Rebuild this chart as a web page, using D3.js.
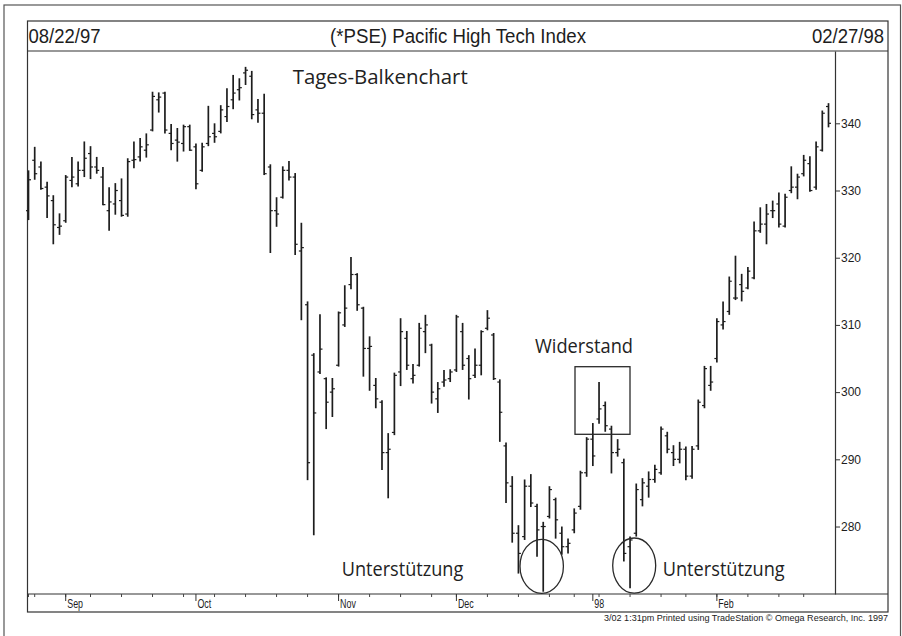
<!DOCTYPE html>
<html>
<head>
<meta charset="utf-8">
<script src="https://cdn.jsdelivr.net/npm/d3@7"></script>
<style>
  body { margin: 0; background: #fff; }
  svg { display: block; }
</style>
</head>
<body>
<script>
// daily bars, 08/22/97 .. 02/27/98 (one value per trading day)
const high = [333.0,336.5,334.3,331.3,329.3,326.6,332.3,335.0,334.3,337.3,336.6,335.0,333.5,330.5,331.1,331.8,334.8,337.3,337.8,338.5,
  344.7,344.6,344.7,339.9,339.3,339.8,339.8,337.0,337.1,342.6,340.0,342.7,345.2,347.2,346.7,348.4,347.8,343.6,344.4,333.9,
  329.0,333.6,334.4,332.6,325.2,313.5,305.8,311.6,302.2,302.1,312.0,315.9,320.1,317.7,312.7,308.3,302.1,298.8,293.9,302.9,
  311.0,309.1,304.2,310.3,311.5,307.2,301.5,303.3,303.4,311.5,310.3,305.5,306.5,309.2,312.2,308.8,301.9,292.5,287.5,280.2,
  287.0,287.8,283.4,280.7,286.0,284.3,280.0,278.2,282.7,288.3,293.3,295.4,301.5,298.6,295.0,293.0,290.1,278.5,286.4,287.2,
  288.2,289.2,294.9,294.1,292.1,292.6,291.9,292.0,298.9,303.9,303.9,311.0,313.5,317.2,320.3,317.6,318.6,325.4,327.5,328.0,
  328.5,329.7,329.5,333.6,332.5,335.3,335.1,337.3,341.9,343.0];
const low = [325.6,331.6,330.1,325.9,322.0,323.4,325.2,330.5,330.6,332.0,331.7,332.5,327.8,324.0,326.4,326.1,326.1,333.3,334.3,334.9,
  338.8,341.6,338.5,336.0,334.3,335.8,335.9,330.2,332.8,336.6,337.1,338.5,340.2,342.1,343.4,345.7,340.6,340.1,332.3,320.7,
  324.6,328.8,331.5,320.4,310.7,286.9,278.7,302.7,294.5,296.3,303.8,309.7,315.3,312.1,302.3,300.2,297.6,288.4,284.2,293.6,
  300.9,303.3,301.3,303.8,305.8,298.3,296.9,300.8,301.5,303.0,303.3,298.9,302.1,302.5,309.2,301.8,292.6,283.5,277.6,273.0,
  278.0,282.9,275.5,270.3,281.2,278.2,275.8,276.0,279.0,282.5,287.4,289.0,295.3,294.1,287.9,290.4,274.8,270.8,278.5,283.0,
  284.3,286.5,287.7,290.9,289.0,289.4,286.9,287.1,291.4,297.6,300.2,304.4,309.3,311.5,313.7,313.5,315.3,316.8,323.7,322.0,
  325.9,324.5,324.5,329.6,328.7,332.1,329.8,330.1,335.8,339.4];
const open = [327.0,334.5,333.5,330.5,328.5,324.5,325.5,331.5,331.0,333.0,335.5,333.5,332.0,327.0,328.0,328.5,326.5,334.5,335.0,336.0,
  339.0,343.5,344.5,338.5,337.5,337.0,339.5,336.5,333.0,337.0,338.5,338.8,341.0,343.5,345.0,347.5,347.0,342.0,341.5,333.5,
  327.0,329.0,333.0,332.0,321.0,313.0,305.5,303.0,302.0,300.0,304.0,310.0,316.0,317.5,312.5,306.5,301.0,298.5,291.0,294.0,
  303.0,308.0,302.0,304.0,309.0,307.0,299.0,301.5,302.0,303.3,309.0,305.0,302.5,304.0,309.5,308.5,301.5,292.0,286.0,279.0,
  278.5,286.0,283.0,280.0,281.5,284.0,279.0,277.0,279.5,283.0,288.0,293.0,296.0,298.0,294.5,291.0,289.5,277.0,279.0,284.0,
  286.0,287.0,288.0,293.5,291.0,290.0,291.5,287.5,292.0,298.0,301.0,305.0,310.0,312.0,314.0,316.0,315.5,317.0,324.0,325.0,
  327.0,328.0,324.7,330.0,330.5,332.5,334.0,330.5,336.0,342.5];
const close = [331.6,332.5,330.3,329.2,324.9,324.7,332.0,332.0,333.0,334.8,333.5,333.0,327.9,328.3,330.0,326.3,334.3,334.6,336.5,336.8,
  344.0,343.9,339.0,337.0,337.2,339.5,336.0,331.0,336.5,338.0,338.0,342.0,342.5,344.5,345.3,347.9,341.3,341.5,332.5,327.0,
  326.5,333.0,332.0,322.0,321.5,289.5,296.9,306.4,298.5,300.5,311.8,312.5,317.5,313.0,306.5,306.8,299.0,291.0,291.5,302.5,
  309.0,304.0,302.5,309.5,310.0,300.0,300.5,301.8,303.0,311.2,304.0,302.0,304.0,309.0,311.0,302.0,297.0,286.5,279.0,276.0,
  286.0,283.5,279.5,280.0,285.5,281.0,277.0,277.5,282.0,288.0,293.0,290.5,297.5,295.0,291.0,291.5,276.0,278.0,285.5,286.5,
  287.0,288.5,294.5,291.5,290.0,291.5,287.5,291.5,298.5,303.5,301.5,310.5,310.5,316.5,314.0,315.0,318.0,324.0,325.0,326.5,
  327.0,325.0,329.0,330.5,332.0,334.5,330.0,336.5,341.5,340.0];

// trading calendar
const firstDay = '1997-08-22';
const lastDay = '1998-02-27';
const holidays = ['1997-09-01', '1997-11-27', '1997-12-25', '1998-01-01', '1998-01-19', '1998-02-16'];
const monthLabels = ['Sep', 'Oct', 'Nov', 'Dec', '98', 'Feb'];
const yTicks = [280, 290, 300, 310, 320, 330, 340];

const W = 902, H = 636;
const ink = '#1d1d1d';

const parse = d3.timeParse('%Y-%m-%d'), fmt = d3.timeFormat('%Y-%m-%d');
const days = d3.timeDay.range(parse(firstDay), d3.timeDay.offset(parse(lastDay), 1))
  .filter(d => d.getDay() !== 0 && d.getDay() !== 6 && !holidays.includes(fmt(d)));
const keys = days.map(fmt);

const bars = keys.map((k, i) => ({ k, o: open[i], h: high[i], l: low[i], c: close[i] }));

// week starts and month starts (first trading day of each)
const weekStarts = keys.filter((k, i) => i === 0 || d3.timeMonday.floor(days[i]) > days[i - 1]);
const monthStarts = keys.filter((k, i) => i > 0 && days[i].getMonth() !== days[i - 1].getMonth());

const box = { left: 27.5, right: 888, top: 21, head: 51, axis: 594, bottom: 612, yAxis: 835 };

const x = d3.scalePoint().domain(keys).range([28.5, 828.5]);
const y = d3.scaleLinear().domain([269.96, 350.76]).range([box.axis, box.head]);

const svg = d3.select('body').append('svg').attr('width', W).attr('height', H);

// outer page frame
svg.append('rect').attr('x', 4).attr('y', 5).attr('width', 896.5).attr('height', 640)
  .attr('fill', 'none').attr('stroke', '#555').attr('stroke-width', 1.2);

// chart box
svg.append('rect').attr('x', box.left).attr('y', box.top)
  .attr('width', box.right - box.left).attr('height', box.bottom - box.top)
  .attr('fill', 'none').attr('stroke', '#333').attr('stroke-width', 1.2);
svg.append('line').attr('x1', box.left).attr('x2', box.right).attr('y1', box.head).attr('y2', box.head)
  .attr('stroke', '#333').attr('stroke-width', 1.2);

const fit = (sel, w) => sel.attr('textLength', w).attr('lengthAdjust', 'spacingAndGlyphs');

// header
const headFont = 'Liberation Sans, Arial, sans-serif';
fit(svg.append('text').attr('x', 28.5).attr('y', 43.3).attr('font-family', headFont).attr('font-size', 20)
  .attr('fill', ink).text('08/22/97'), 72);
fit(svg.append('text').attr('x', 884).attr('y', 43.3).attr('text-anchor', 'end').attr('font-family', headFont)
  .attr('font-size', 20).attr('fill', ink).text('02/27/98'), 72);
fit(svg.append('text').attr('x', 330).attr('y', 43.3).attr('font-family', headFont).attr('font-size', 20)
  .attr('fill', ink).text('(*PSE) Pacific High Tech Index'), 256);

// y axis (right)
const yAxis = svg.append('g').attr('transform', `translate(${box.yAxis},0)`)
  .call(d3.axisRight(y).tickValues(yTicks).tickSize(5).tickSizeOuter(0).tickPadding(1));
yAxis.select('.domain').attr('stroke', '#333').attr('stroke-width', 1.2);
yAxis.selectAll('.tick line').attr('stroke', '#333');
yAxis.selectAll('.tick text').attr('font-family', headFont).attr('font-size', 12).attr('fill', ink);

// x axis strip
const xAxis = svg.append('g').attr('transform', `translate(0,${box.axis})`);
xAxis.append('line').attr('x1', box.left).attr('x2', box.right).attr('stroke', '#333').attr('stroke-width', 1.2);
xAxis.selectAll('line.wk').data(weekStarts).join('line').attr('class', 'wk')
  .attr('x1', d => x(d)).attr('x2', d => x(d)).attr('y1', 0).attr('y2', 3).attr('stroke', '#444');
xAxis.selectAll('line.mo').data(monthStarts).join('line').attr('class', 'mo')
  .attr('x1', d => x(d)).attr('x2', d => x(d)).attr('y1', 0).attr('y2', 7).attr('stroke', '#333');
xAxis.selectAll('text.mo').data(monthStarts).join('text').attr('class', 'mo')
  .attr('x', d => x(d) + 1.5).attr('y', 13.8)
  .attr('font-family', headFont).attr('font-size', 12).attr('fill', ink)
  .text((d, i) => monthLabels[i])
  .each(function () { fit(d3.select(this), this.getComputedTextLength() * 0.74); });

// footer
fit(svg.append('text').attr('x', 604).attr('y', 621).attr('font-family', headFont).attr('font-size', 9)
  .attr('fill', ink).text('3/02  1:31pm Printed using TradeStation \u00a9 Omega Research, Inc. 1997'), 284);

// OHLC bars
const g = svg.append('g').attr('stroke', ink).attr('stroke-width', 1.7);
g.selectAll('line.hl').data(bars).join('line').attr('class', 'hl')
  .attr('x1', d => x(d.k)).attr('x2', d => x(d.k)).attr('y1', d => y(d.h)).attr('y2', d => y(d.l));
g.selectAll('line.op').data(bars).join('line').attr('class', 'op').attr('stroke-width', 1.2)
  .attr('x1', d => x(d.k) - 2.5).attr('x2', d => x(d.k)).attr('y1', d => y(d.o)).attr('y2', d => y(d.o));
g.selectAll('line.cl').data(bars).join('line').attr('class', 'cl').attr('stroke-width', 1.2)
  .attr('x1', d => x(d.k)).attr('x2', d => x(d.k) + 2.5).attr('y1', d => y(d.c)).attr('y2', d => y(d.c));

// annotations
const noteFont = 'Open Sans, Noto Sans, sans-serif';
const note = (tx, x0, y0, w) => fit(svg.append('text').attr('x', x0).attr('y', y0)
  .attr('font-family', noteFont).attr('font-size', 20.5).attr('fill', '#222').text(tx), w);
note('Tages-Balkenchart', 292.7, 84, 175);
note('Widerstand', 535, 352.7, 98);
note('Unterstützung', 341.7, 576, 121.6);
note('Unterstützung', 662.7, 576, 122);

svg.append('rect').attr('x', 575).attr('y', 366.7).attr('width', 55).attr('height', 67.6)
  .attr('fill', 'none').attr('stroke', '#2a2a2a').attr('stroke-width', 1.3);
svg.append('ellipse').attr('cx', 541.7).attr('cy', 566.3).attr('rx', 21.7).attr('ry', 27)
  .attr('fill', 'none').attr('stroke', '#2a2a2a').attr('stroke-width', 1.3);
svg.append('ellipse').attr('cx', 634.2).attr('cy', 565.6).attr('rx', 21.5).attr('ry', 27.6)
  .attr('fill', 'none').attr('stroke', '#2a2a2a').attr('stroke-width', 1.3);
</script>
</body>
</html>
